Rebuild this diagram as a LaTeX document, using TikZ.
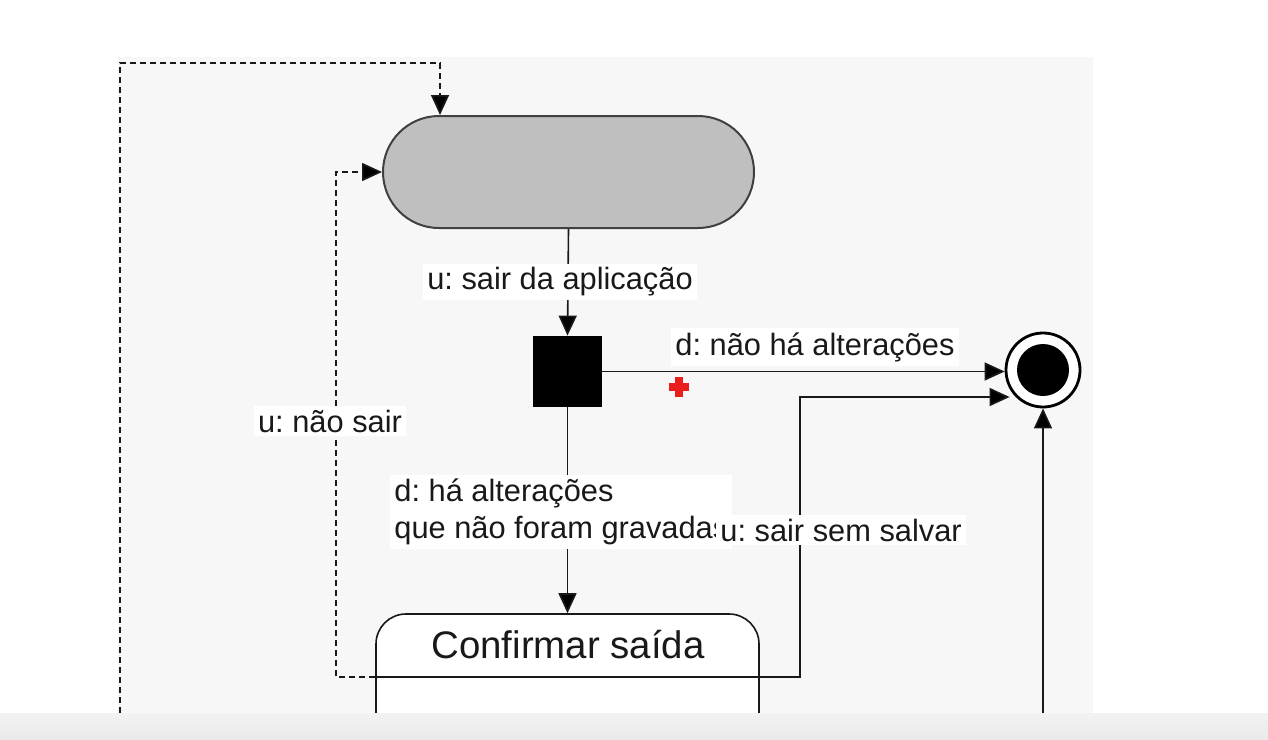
\documentclass[tikz,border=0pt]{standalone}
\usepackage{fontspec}
\setmainfont{Liberation Sans}
\usetikzlibrary{arrows.meta,calc}
\begin{document}
\frenchspacing
\begin{tikzpicture}[x=0.5pt,y=-0.5pt,
  ln/.style={line width=0.8pt,draw=black!90},
  arr/.style={ln,-{Triangle[length=10pt,width=9pt,fill=black]}},
  darr/.style={arr,dash pattern=on 3pt off 2pt},
  lbl/.style={fill=white,inner sep=2pt,text=black!90,font=\fontsize{15.4}{18.5}\selectfont}]
\useasboundingbox (0,0) rectangle (1268,739);
\fill[white] (0,0) rectangle (1268,739);
\fill[black!3] (118,57) rectangle (1093,713);
% nodes
\node[draw=black!75,line width=1pt,fill=black!25,rounded corners=28pt,
      minimum width=185.5pt,minimum height=56pt,inner sep=0pt] (act) at (568.5,172) {};
\node[fill=black,minimum width=34.5pt,minimum height=35.5pt,inner sep=0pt] (sq) at (567.5,371.5) {};
\node[circle,draw=black,line width=1.4pt,fill=white,minimum size=37pt,inner sep=0pt] (fin) at (1043,370) {};
\node[circle,fill=black,minimum size=26pt,inner sep=0pt] (fincore) at (fin.center) {};
\node[draw=black!90,line width=0.8pt,fill=white,rounded corners=15pt,
      minimum width=191.5pt,minimum height=73pt,inner sep=0pt] (conf) at (567.5,687) {};
\node[text=black!90,font=\fontsize{19.2}{23}\selectfont] (conftxt) at (568,645) {Confirmar saída};
\draw[ln] (conf.west |- 0,677) -- (conf.east |- 0,677);
% connectors
\draw[arr] (act.south) -- (sq.north);
\draw[arr] (sq.east) -- (sq.east -| fin.west);
\draw[arr] (sq.south) -- (conf.north);
\coordinate (b1) at (800,397);
\draw[arr] (conf.east |- 0,677) -| (b1) -- ([xshift=2.5pt,yshift=-13.5pt]fin.west);
\coordinate (bot) at (1043,713);
\draw[arr] (bot) -- (fin.south);
\coordinate (dl) at (120,713);
\draw[darr] (dl) -- (120,63) -| ([xshift=29pt]act.north west);
\draw[darr] (conf.west |- 0,677) -| ($(act.west)+(-46,0)$) -- (act.west);
% labels
\node[lbl] (l1) at (560,282) {u: sair da aplicação};
\node[lbl] (l2) at (815,347) {d: não há alterações};
\node[lbl,align=left,anchor=west] (l3) at (390,512) {d: há alterações\\que não foram gravadas};
\node[lbl,anchor=west] (l4) at (716,530) {u: sair sem salvar};
\node[lbl] (l5) at (330,421) {u: não sair};
% red cursor mark
\draw[draw={rgb,255:red,235;green,30;blue,30},line width=3.6pt] (669,387) -- (689,387) (679,377) -- (679,397);
% bottom strip
\shade[top color=black!5,bottom color=black!8] (0,713) rectangle (1268,739);
\end{tikzpicture}
\end{document}
